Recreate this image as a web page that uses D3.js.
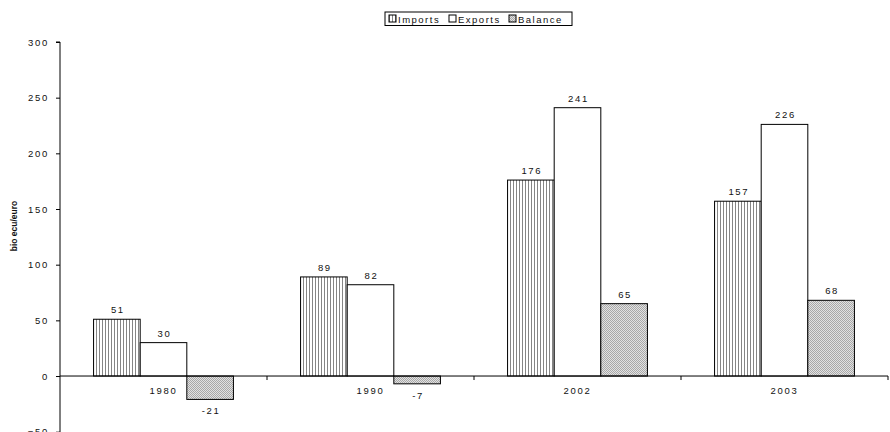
<!DOCTYPE html>
<html>
<head>
<meta charset="utf-8">
<script src="https://cdn.jsdelivr.net/npm/d3@7"></script>
<style>
  body { margin: 0; background: #fff; }
  text { font-family: "Liberation Sans", Arial, sans-serif; fill: #111; }
</style>
</head>
<body>
<svg width="890" height="432"></svg>
<script>
// chart data
let years = ["1980", "1990", "2002", "2003"];
let seriesNames = ["Imports", "Exports", "Balance"];
let imports = [51, 89, 176, 157];
let exports = [30, 82, 241, 226];
let balance = [-21, -7, 65, 68];
let yTicks = [-50, 0, 50, 100, 150, 200, 250, 300];

let seriesValues = [imports, exports, balance];

let svgWidth = 890,
    svgHeight = 432;

let margin = {left: 60, right: 2, top: 42};

let svg = d3.select("svg")
    .attr("width", svgWidth)
    .attr("height", svgHeight);

// patterns for the fills
let defs = svg.append("defs");

let stripes = defs.append("pattern")
    .attr("id", "stripes")
    .attr("patternUnits", "userSpaceOnUse")
    .attr("width", 3).attr("height", 4);
stripes.append("rect").attr("width", 3).attr("height", 4).attr("fill", "#fff");
stripes.append("rect").attr("x", 0).attr("width", 1).attr("height", 4).attr("fill", "#858585");

let dots = defs.append("pattern")
    .attr("id", "dots")
    .attr("patternUnits", "userSpaceOnUse")
    .attr("width", 2).attr("height", 2);
dots.append("rect").attr("width", 2).attr("height", 2).attr("fill", "#e2e2e2");
dots.append("rect").attr("width", 1).attr("height", 1).attr("fill", "#a8a8a8");
dots.append("rect").attr("x", 1).attr("y", 1).attr("width", 1).attr("height", 1).attr("fill", "#a8a8a8");

let fills = {"Imports": "url(#stripes)", "Exports": "#fff", "Balance": "url(#dots)"};

// scales
let y = d3.scaleLinear()
    .domain([-50, 300])
    .range([431.7, margin.top]);

let x0 = d3.scaleBand()
    .domain(years)
    .range([margin.left, svgWidth - margin.right])
    .padding(0);

let x1 = d3.scaleBand()
    .domain(seriesNames)
    .range([0, x0.bandwidth()])
    .paddingInner(0)
    .paddingOuter(0.72);

let fontSize = 9.5,
    spacing = 1.7;

// y axis
let yAxis = d3.axisLeft(y)
    .tickValues(yTicks)
    .tickSize(4)
    .tickPadding(7);

let yg = svg.append("g")
    .attr("transform", "translate(" + margin.left + ",0)")
    .call(yAxis);
yg.select(".domain").attr("stroke", "#000").attr("d", "M-4," + y(300) + "H0V" + svgHeight);
yg.selectAll(".tick line").attr("stroke", "#000");
yg.selectAll(".tick text")
    .attr("font-size", fontSize)
    .attr("letter-spacing", spacing)
    .attr("font-family", "Liberation Sans, Arial, sans-serif")
    .attr("fill", "#111");

// axis title
svg.append("text")
    .attr("transform", "translate(17," + 226 + ") rotate(-90)")
    .attr("text-anchor", "middle")
    .attr("font-size", 8.5)
    .attr("font-weight", "bold")
    .text("bio ecu/euro");

// bars
let rows = [];
years.forEach((yr, i) => {
    seriesNames.forEach((s, j) => {
        rows.push({year: yr, series: s, value: seriesValues[j][i]});
    });
});

let bars = svg.append("g").attr("class", "bars");

bars.selectAll("rect")
    .data(rows).enter()
    .append("rect")
        .attr("x", d => x0(d.year) + x1(d.series))
        .attr("y", d => y(Math.max(0, d.value)))
        .attr("width", x1.bandwidth())
        .attr("height", d => Math.abs(y(d.value) - y(0)))
        .attr("fill", d => fills[d.series])
        .attr("stroke", "#000")
        .attr("stroke-width", 1);

// value labels
bars.selectAll("text")
    .data(rows).enter()
    .append("text")
        .attr("x", d => x0(d.year) + x1(d.series) + x1.bandwidth() / 2 + 1)
        .attr("y", d => d.value >= 0 ? y(d.value) - 6 : y(d.value) + 15)
        .attr("text-anchor", "middle")
        .attr("font-size", fontSize)
        .attr("letter-spacing", spacing)
        .text(d => d.value);

// x axis at zero
let xAxis = d3.axisBottom(x0)
    .tickSize(0)
    .tickPadding(11);

let xg = svg.append("g")
    .attr("transform", "translate(0," + y(0) + ")")
    .call(xAxis);
xg.select(".domain").attr("stroke", "#000").attr("d", "M" + margin.left + ",0H" + (svgWidth - margin.right));
xg.selectAll(".tick text")
    .attr("font-size", fontSize)
    .attr("letter-spacing", spacing)
    .attr("font-family", "Liberation Sans, Arial, sans-serif")
    .attr("fill", "#111");

// category boundary ticks
xg.selectAll("line.sep")
    .data(years).enter()
    .append("line")
        .attr("class", "sep")
        .attr("x1", d => x0(d) + x0.bandwidth())
        .attr("x2", d => x0(d) + x0.bandwidth())
        .attr("y1", 0)
        .attr("y2", 4)
        .attr("stroke", "#000");

// legend
let legend = svg.append("g").attr("class", "legend");
legend.append("rect")
    .attr("x", 385).attr("y", 12)
    .attr("width", 187).attr("height", 13.5)
    .attr("fill", "#fff")
    .attr("stroke", "#000");

let legendX = [389, 449, 509];
let item = legend.selectAll("g.item")
    .data(seriesNames).enter()
    .append("g")
        .attr("class", "item")
        .attr("transform", (d, i) => "translate(" + legendX[i] + ",15)");

item.append("rect")
    .attr("width", 7).attr("height", 7)
    .attr("fill", d => fills[d])
    .attr("stroke", "#000");

item.append("text")
    .attr("x", 9).attr("y", 8)
    .attr("font-size", fontSize)
    .attr("letter-spacing", 1.5)
    .text(d => d);
</script>
</body>
</html>
